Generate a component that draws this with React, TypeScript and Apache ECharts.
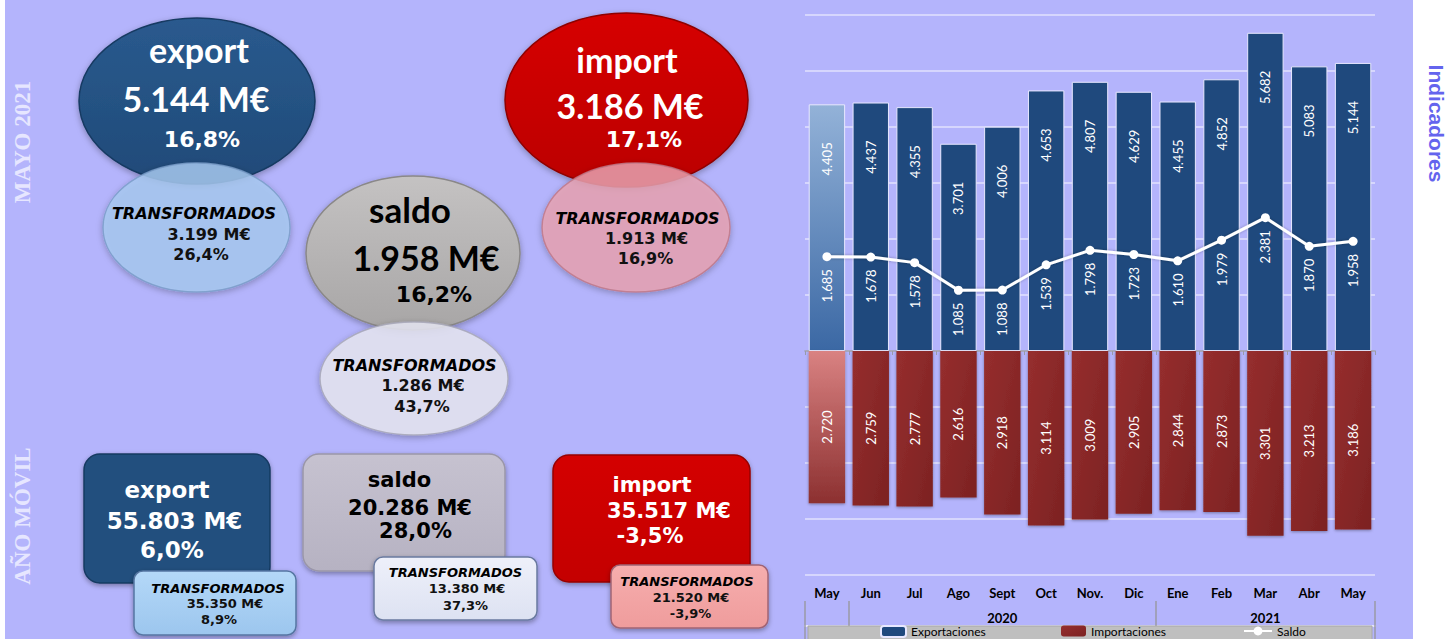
import React, { useEffect, useRef } from "react";
import * as echarts from "echarts";

// ---- chart data ----
const categories = ["May", "Jun", "Jul", "Ago", "Sept", "Oct", "Nov.", "Dic", "Ene", "Feb", "Mar", "Abr", "May"];
const yearLabels = ["", "", "", "", "2020", "", "", "", "", "", "2021", "", ""];
const yearBoundaryIdx = [0, 1, 8];
const exportValues = [4405, 4437, 4355, 3701, 4006, 4653, 4807, 4629, 4455, 4852, 5682, 5083, 5144];
const importValues = [2720, 2759, 2777, 2616, 2918, 3114, 3009, 2905, 2844, 2873, 3301, 3213, 3186];
const saldoValues = [1685, 1678, 1578, 1085, 1088, 1539, 1798, 1723, 1610, 1979, 2381, 1870, 1958];

// ---- KPI texts ----
const mayoExport = ["export", "5.144 M€", "16,8%"];
const mayoExportTransf = ["TRANSFORMADOS", "3.199 M€", "26,4%"];
const mayoSaldo = ["saldo", "1.958 M€", "16,2%"];
const mayoSaldoTransf = ["TRANSFORMADOS", "1.286 M€", "43,7%"];
const mayoImport = ["import", "3.186 M€", "17,1%"];
const mayoImportTransf = ["TRANSFORMADOS", "1.913 M€", "16,9%"];
const anoExport = ["export", "55.803 M€", "6,0%"];
const anoExportTransf = ["TRANSFORMADOS", "35.350 M€", "8,9%"];
const anoSaldo = ["saldo", "20.286 M€", "28,0%"];
const anoSaldoTransf = ["TRANSFORMADOS", "13.380 M€", "37,3%"];
const anoImport = ["import", "35.517 M€", "-3,5%"];
const anoImportTransf = ["TRANSFORMADOS", "21.520 M€", "-3,9%"];

const F_CAL = 'Lato, "Open Sans", sans-serif';
const F_VER = '"DejaVu Sans", Verdana, sans-serif';
const F_SERIF = '"Liberation Serif", "DejaVu Serif", serif';

const fmt = (v: number) => (Math.abs(v) / 1000).toFixed(3);

function txt(x: number, y: number, text: string, size: number, weight: string, family: string, color: string, italic = false, rotation = 0) {
  return {
    type: "text",
    x,
    y,
    rotation,
    z: 10,
    style: {
      text,
      fill: color,
      fontSize: size,
      fontWeight: weight,
      fontFamily: family,
      fontStyle: italic ? "italic" : "normal",
      align: "center",
      verticalAlign: "middle",
    },
  };
}

function lg(c1: string, c2: string) {
  return new echarts.graphic.LinearGradient(0, 0, 0, 1, [
    { offset: 0, color: c1 },
    { offset: 1, color: c2 },
  ]);
}

function ellipse(cx: number, cy: number, rx: number, ry: number, fill: any, stroke: string, opacity = 1, z = 5) {
  return {
    type: "ellipse",
    z,
    shape: { cx, cy, rx, ry },
    style: {
      fill,
      stroke,
      lineWidth: 1.5,
      opacity,
      shadowBlur: 6,
      shadowColor: "rgba(0,0,0,0.3)",
      shadowOffsetY: 2,
    },
  };
}

function box(x: number, y: number, w: number, h: number, r: number, fill: any, stroke: string, z = 5) {
  return {
    type: "rect",
    z,
    shape: { x, y, width: w, height: h, r },
    style: {
      fill,
      stroke,
      lineWidth: 1.5,
      shadowBlur: 5,
      shadowColor: "rgba(0,0,0,0.35)",
      shadowOffsetY: 2,
    },
  };
}

function buildGraphics() {
  const g: any[] = [];
  // page strips
  g.push({ type: "rect", z: 1, shape: { x: 0, y: 0, width: 5, height: 639 }, style: { fill: "#ffffff" } });
  g.push({ type: "rect", z: 1, shape: { x: 1413, y: 0, width: 36, height: 639 }, style: { fill: "#ffffff" } });
  g.push(txt(1436, 123.5, "Indicadores", 21, "bold", '"Liberation Sans", Arial, sans-serif', "#6464ee", false, -Math.PI / 2));

  // side titles
  g.push(txt(22, 142, "MAYO 2021", 23, "bold", F_SERIF, "#e6e6ff", false, Math.PI / 2));
  g.push(txt(22, 516, "AÑO MÓVIL", 23, "bold", F_SERIF, "#e6e6ff", false, Math.PI / 2));

  // ---- MAYO: export ----
  g.push(ellipse(197, 101, 118, 83, lg("#2a5a8e", "#1f4a78"), "#183a62", 1, 4));
  g.push(ellipse(196.5, 227.5, 93.5, 64.5, "#a8cbf2", "#7a9cc8", 0.82, 5));
  g.push(txt(199, 49, mayoExport[0], 34, "bold", F_CAL, "#ffffff"));
  g.push(txt(196, 98, mayoExport[1], 34, "bold", F_CAL, "#ffffff"));
  g.push(txt(202, 139, mayoExport[2], 22, "bold", F_VER, "#ffffff"));
  g.push(txt(194, 213.5, mayoExportTransf[0], 16, "bold", F_VER, "#000000", true));
  g.push(txt(209, 234, mayoExportTransf[1], 16, "bold", F_VER, "#111111"));
  g.push(txt(201, 254, mayoExportTransf[2], 16, "bold", F_VER, "#111111"));

  // ---- MAYO: saldo ----
  g.push(ellipse(413, 253, 107, 77, lg("#c4c2c2", "#a8a6a6"), "#8a8888", 1, 4));
  g.push(ellipse(414, 378.5, 94, 56.5, "#e6e6f2", "#a8a8b8", 0.85, 5));
  g.push(txt(410, 209, mayoSaldo[0], 35, "bold", F_CAL, "#000000"));
  g.push(txt(426, 257.5, mayoSaldo[1], 34, "bold", F_CAL, "#000000"));
  g.push(txt(434, 294, mayoSaldo[2], 22, "bold", F_VER, "#000000"));
  g.push(txt(414.5, 365.5, mayoSaldoTransf[0], 16, "bold", F_VER, "#000000", true));
  g.push(txt(423, 385.5, mayoSaldoTransf[1], 16, "bold", F_VER, "#111111"));
  g.push(txt(422, 406, mayoSaldoTransf[2], 16, "bold", F_VER, "#111111"));

  // ---- MAYO: import ----
  g.push(ellipse(626.5, 100, 121.5, 87, lg("#d60000", "#bb0000"), "#8e0000", 1, 4));
  g.push(ellipse(636, 227.5, 94, 64.5, "#eaa3b2", "#c07888", 0.82, 5));
  g.push(txt(627, 59, mayoImport[0], 34, "bold", F_CAL, "#ffffff"));
  g.push(txt(630, 105, mayoImport[1], 34, "bold", F_CAL, "#ffffff"));
  g.push(txt(644, 139, mayoImport[2], 22, "bold", F_VER, "#ffffff"));
  g.push(txt(637.5, 218, mayoImportTransf[0], 16, "bold", F_VER, "#000000", true));
  g.push(txt(646.5, 238.5, mayoImportTransf[1], 16, "bold", F_VER, "#111111"));
  g.push(txt(645.5, 258.5, mayoImportTransf[2], 16, "bold", F_VER, "#111111"));

  // ---- AÑO MÓVIL: export ----
  g.push(box(84, 454, 186, 129, 16, "#23507e", "#173a62", 4));
  g.push(box(134, 571, 162, 64, 9, lg("#b4d8f8", "#9cc6ee"), "#5676a2", 5));
  g.push(txt(167, 490, anoExport[0], 23, "bold", F_VER, "#ffffff"));
  g.push(txt(174.5, 520.5, anoExport[1], 23, "bold", F_VER, "#ffffff"));
  g.push(txt(172, 550, anoExport[2], 23, "bold", F_VER, "#ffffff"));
  g.push(txt(218, 588, anoExportTransf[0], 13, "bold", F_VER, "#000000", true));
  g.push(txt(225, 603, anoExportTransf[1], 13, "bold", F_VER, "#111111"));
  g.push(txt(219, 619, anoExportTransf[2], 13, "bold", F_VER, "#111111"));

  // ---- AÑO MÓVIL: saldo ----
  g.push(box(303, 454, 202, 117, 16, lg("#c6c2d0", "#b6b2c2"), "#9a96a8", 4));
  g.push(box(374, 557, 163, 63, 9, lg("#eef0fa", "#dde2f2"), "#6a7aa0", 5));
  g.push(txt(399.5, 480, anoSaldo[0], 21, "bold", F_VER, "#000000"));
  g.push(txt(410, 507.5, anoSaldo[1], 21, "bold", F_VER, "#000000"));
  g.push(txt(415.5, 530.5, anoSaldo[2], 21, "bold", F_VER, "#000000"));
  g.push(txt(455.5, 572.5, anoSaldoTransf[0], 13, "bold", F_VER, "#000000", true));
  g.push(txt(467, 588.5, anoSaldoTransf[1], 13, "bold", F_VER, "#111111"));
  g.push(txt(465.5, 605, anoSaldoTransf[2], 13, "bold", F_VER, "#111111"));

  // ---- AÑO MÓVIL: import ----
  g.push(box(553, 455, 197, 127, 16, lg("#d40000", "#c40000"), "#960000", 4));
  g.push(box(611, 565, 157, 63, 9, lg("#f6aeae", "#ef9c9c"), "#a06474", 5));
  g.push(txt(652, 485, anoImport[0], 21, "bold", F_VER, "#ffffff"));
  g.push(txt(669, 510.5, anoImport[1], 21, "bold", F_VER, "#ffffff"));
  g.push(txt(650, 535.5, anoImport[2], 21, "bold", F_VER, "#ffffff"));
  g.push(txt(687, 581.5, anoImportTransf[0], 13, "bold", F_VER, "#000000", true));
  g.push(txt(691, 597.5, anoImportTransf[1], 13, "bold", F_VER, "#111111"));
  g.push(txt(690.5, 613.5, anoImportTransf[2], 13, "bold", F_VER, "#111111"));

  // legend background box
  g.push({ type: "rect", z: 1, shape: { x: 808, y: 626, width: 564, height: 20 }, style: { fill: "#bfbfbf", stroke: "#a8a8a8", lineWidth: 1 } });
  return g;
}

export default function App() {
  const ref = useRef<HTMLDivElement>(null);

  useEffect(() => {
    if (!ref.current) return;
    const chart = echarts.init(ref.current, null, { renderer: "svg" });

    const blueGrad = lg("#93b2d8", "#3b68a4");
    const redGrad = lg("#d98282", "#8c3030");
    const redMain = new echarts.graphic.LinearGradient(0, 0, 1, 1, [
      { offset: 0, color: "#962e2e" },
      { offset: 1, color: "#7c2222" },
    ]);

    const exportData = exportValues.map((v, i) => (i === 0 ? { value: v, itemStyle: { color: blueGrad } } : v));
    const importData = importValues.map((v, i) => (i === 0 ? { value: -v, itemStyle: { color: redGrad } } : -v));

    const legendText = { fontSize: 12, color: "#000", fontFamily: F_CAL, lineHeight: 12 };

    const option: any = {
      animation: false,
      backgroundColor: "#b4b4fc",
      textStyle: { fontFamily: F_CAL },
      graphic: buildGraphics(),
      grid: [
        { left: 805, right: 74, top: 15, height: 560 },
        { left: 805, right: 74, top: 575, height: 51 },
      ],
      legend: [
        { data: ["Exportaciones"], left: 880, top: 625, padding: 0, itemWidth: 25, itemHeight: 11, itemGap: 4, selectedMode: false, textStyle: legendText },
        { data: ["Importaciones"], left: 1061, top: 625, padding: 0, itemWidth: 25, itemHeight: 11, itemGap: 4, selectedMode: false, textStyle: legendText },
        { data: ["Saldo"], left: 1243, top: 625, padding: 0, itemWidth: 28, itemHeight: 11, itemGap: 4, selectedMode: false, textStyle: legendText },
      ],
      xAxis: [
        {
          gridIndex: 0,
          type: "category",
          data: categories,
          position: "bottom",
          axisLine: { onZero: true, lineStyle: { color: "#9a9aaa", width: 1.5 } },
          axisTick: { show: true, length: 4, lineStyle: { color: "#9a9aaa" } },
          axisLabel: { show: false },
        },
        {
          gridIndex: 1,
          type: "category",
          data: categories,
          position: "top",
          axisLine: { show: true, lineStyle: { color: "#e4e4fc", width: 2 } },
          axisTick: { show: true, inside: true, length: 26, interval: 0, lineStyle: { color: "#9a9aa6", width: 1.5 } },
          axisLabel: { show: true, inside: true, interval: 0, margin: 11, fontSize: 13, fontWeight: "bold", color: "#000", fontFamily: F_CAL },
        },
        {
          gridIndex: 1,
          type: "category",
          data: yearLabels,
          position: "bottom",
          axisLine: { show: false },
          axisTick: {
            show: true,
            inside: true,
            length: 25,
            interval: (index: number) => yearBoundaryIdx.indexOf(index) >= 0,
            lineStyle: { color: "#9a9aa6", width: 1.5 },
          },
          axisLabel: { show: true, inside: true, interval: 0, margin: 2, fontSize: 13, fontWeight: "bold", color: "#000", fontFamily: F_CAL },
        },
      ],
      yAxis: [
        {
          gridIndex: 0,
          type: "value",
          min: -4000,
          max: 6000,
          interval: 1000,
          axisLine: { show: false },
          axisTick: { show: false },
          axisLabel: { show: false },
          splitLine: { show: true, lineStyle: { color: "#e2e2fe", width: 1.5 } },
        },
        { gridIndex: 1, type: "value", show: false, splitLine: { show: false } },
      ],
      series: [
        {
          name: "Exportaciones",
          type: "bar",
          xAxisIndex: 0,
          yAxisIndex: 0,
          stack: "total",
          barCategoryGap: "17%",
          data: exportData,
          itemStyle: { color: "#1f497d", borderColor: "#e8e8ff", borderWidth: 1 },
          label: {
            show: true,
            position: "insideTop",
            distance: 38,
            rotate: 90,
            align: "right",
            verticalAlign: "middle",
            color: "#ffffff",
            fontSize: 13,
            fontFamily: F_CAL,
            formatter: (p: any) => fmt(p.value),
          },
          z: 2,
        },
        {
          name: "Importaciones",
          type: "bar",
          xAxisIndex: 0,
          yAxisIndex: 0,
          stack: "total",
          barCategoryGap: "17%",
          data: importData,
          itemStyle: { color: redMain, shadowBlur: 3, shadowColor: "rgba(0,0,0,0.35)", shadowOffsetY: 1 },
          label: {
            show: true,
            position: "inside",
            rotate: 90,
            align: "center",
            verticalAlign: "middle",
            color: "#ffffff",
            fontSize: 13,
            fontFamily: F_CAL,
            formatter: (p: any) => fmt(p.value),
          },
          z: 2,
        },
        {
          name: "Saldo",
          type: "line",
          xAxisIndex: 0,
          yAxisIndex: 0,
          data: saldoValues,
          symbol: "circle",
          symbolSize: 9,
          itemStyle: { color: "#ffffff" },
          lineStyle: { color: "#ffffff", width: 3, shadowBlur: 3, shadowColor: "rgba(0,0,0,0.3)" },
          label: {
            show: true,
            position: "bottom",
            distance: 8,
            rotate: 90,
            align: "right",
            verticalAlign: "middle",
            color: "#ffffff",
            fontSize: 13,
            fontFamily: F_CAL,
            formatter: (p: any) => fmt(p.value),
          },
          z: 5,
        },
      ],
    };

    chart.setOption(option);
    return () => chart.dispose();
  }, []);

  return <div ref={ref} style={{ position: "fixed", left: 0, top: 0, width: 1449, height: 639 }} />;
}
